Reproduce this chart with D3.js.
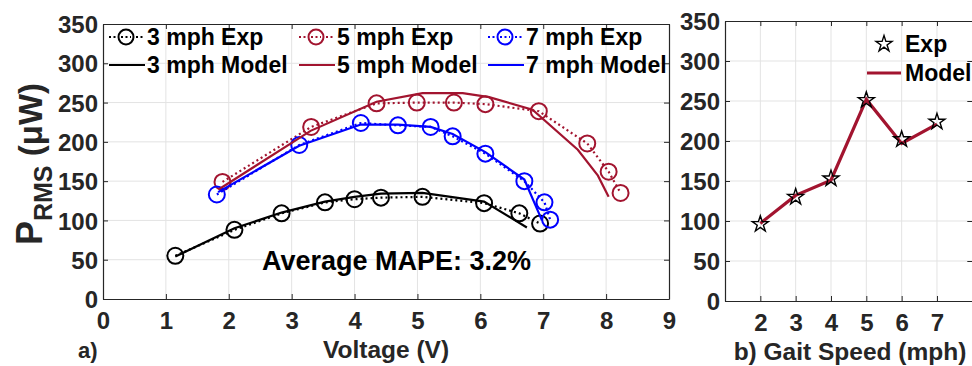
<!DOCTYPE html>
<html>
<head>
<meta charset="utf-8">
<script src="https://cdn.jsdelivr.net/npm/d3@7/dist/d3.min.js"></script>
<style>
  html, body { margin: 0; padding: 0; background: #fff; }
  svg { display: block; font-family: "Liberation Sans", Arial, Helvetica, sans-serif; font-weight: bold; }
</style>
</head>
<body>
<svg id="fig" width="972" height="366"></svg>
<script>
// ---- Panel a) power vs. voltage ----
const voltTicks = [0, 1, 2, 3, 4, 5, 6, 7, 8, 9];
const powerTicks = [0, 50, 100, 150, 200, 250, 300, 350];

const exp3V = [1.15, 2.09, 2.84, 3.53, 4.00, 4.42, 5.08, 6.06, 6.62, 6.95];
const exp3P = [55, 88, 109, 123, 127, 129, 130, 122, 109, 96];
const mod3V = [1.15, 2.09, 2.84, 3.53, 4.00, 4.42, 5.08, 6.06, 6.74];
const mod3P = [54, 90, 110, 124, 130, 134, 135, 124, 91];

const exp5V = [1.90, 3.31, 4.35, 4.99, 5.58, 6.08, 6.93, 7.70, 8.04, 8.23];
const exp5P = [149, 219, 249, 250, 250, 248, 239, 198, 162, 135];
const mod5V = [1.85, 3.30, 4.35, 5.08, 5.72, 6.14, 6.83, 7.55, 7.87, 8.04];
const mod5P = [140, 214, 251, 262, 262, 257, 241, 190, 157, 130];

const exp7V = [1.81, 3.12, 4.10, 4.69, 5.21, 5.56, 6.08, 6.70, 7.02, 7.11];
const exp7P = [133, 196, 224, 221, 219, 207, 185, 150, 123, 101];
const mod7V = [1.83, 3.12, 4.10, 4.69, 5.21, 5.56, 6.08, 6.70, 6.98];
const mod7P = [136, 195, 222, 222, 219, 210, 187, 152, 100];

const seriesNames = ["3 mph", "5 mph", "7 mph"];
const seriesColors = ["#000000", "#A2142F", "#0000FF"];
const mapeLabel = "Average MAPE: 3.2%";

// ---- Panel b) power vs. gait speed ----
const speedTicks = [2, 3, 4, 5, 6, 7];
const gaitSpeed = [2, 3, 4, 5, 6, 7];
const gaitExp = [96, 130, 153, 251, 202, 224];
const gaitModel = [97, 132, 151, 252, 197, 221];

const axisColor = "#262626";
const gridColor = "#e3e3e3";
const tickLen = 5;

const svg = d3.select("#fig");

const zip = (xs, ys) => xs.map((x, i) => [x, ys[i]]);

function drawFrame(g, x, y, xTickVals, yTickVals, xGridVals) {
  const [x0, x1] = x.range();
  const [y0, y1] = y.range();
  // grid
  g.append("g").selectAll("line").data(xGridVals).join("line")
    .attr("x1", d => x(d)).attr("x2", d => x(d))
    .attr("y1", y0).attr("y2", y1)
    .attr("stroke", gridColor).attr("stroke-width", 1);
  g.append("g").selectAll("line").data(yTickVals.filter(v => v > y.domain()[0] && v < y.domain()[1])).join("line")
    .attr("x1", x0).attr("x2", x1)
    .attr("y1", d => y(d)).attr("y2", d => y(d))
    .attr("stroke", gridColor).attr("stroke-width", 1);

  // box axes with inward ticks
  const bottom = g.append("g").attr("transform", `translate(0,${y0})`)
    .call(d3.axisBottom(x).tickValues(xTickVals).tickSizeInner(-tickLen).tickSizeOuter(0).tickPadding(13).tickFormat(d3.format("d")));
  const left = g.append("g").attr("transform", `translate(${x0},0)`)
    .call(d3.axisLeft(y).tickValues(yTickVals).tickSizeInner(-tickLen).tickSizeOuter(0).tickPadding(5).tickFormat(d3.format("d")));
  const top = g.append("g").attr("transform", `translate(0,${y1})`)
    .call(d3.axisTop(x).tickValues(xTickVals).tickSizeInner(-tickLen).tickSizeOuter(0).tickFormat(""));
  const right = g.append("g").attr("transform", `translate(${x1},0)`)
    .call(d3.axisRight(y).tickValues(yTickVals).tickSizeInner(-tickLen).tickSizeOuter(0).tickFormat(""));

  [bottom, left, top, right].forEach(a => {
    a.select(".domain").attr("stroke", axisColor).attr("stroke-width", 1.2);
    a.selectAll(".tick line").attr("stroke", axisColor).attr("stroke-width", 1);
    a.selectAll(".tick text")
      .attr("fill", axisColor)
      .style("font-family", "'Liberation Sans', Arial, sans-serif")
      .style("font-weight", "bold")
      .style("font-size", "24px");
  });
  left.selectAll(".tick text").attr("dy", "0.36em");
  bottom.selectAll(".tick text").attr("dy", "0.71em");
}

// ================= Panel a =================
const xA = d3.scaleLinear().domain([0, 9]).range([103, 669]);
const yA = d3.scaleLinear().domain([0, 350]).range([299, 24]);
const gA = svg.append("g");
drawFrame(gA, xA, yA, voltTicks, powerTicks, voltTicks.filter(v => v > 0 && v < 9));

const lineA = d3.line().x(d => xA(d[0])).y(d => yA(d[1]));
const expSets = [zip(exp3V, exp3P), zip(exp5V, exp5P), zip(exp7V, exp7P)];
const modSets = [zip(mod3V, mod3P), zip(mod5V, mod5P), zip(mod7V, mod7P)];

const plotA = gA.append("g");
[0, 1, 2].forEach(i => {
  // experimental data: dotted line with open circles
  plotA.append("path").datum(expSets[i])
    .attr("d", lineA).attr("fill", "none")
    .attr("stroke", seriesColors[i]).attr("stroke-width", 2.2)
    .attr("stroke-dasharray", "2,3");
  plotA.append("g").selectAll("circle").data(expSets[i]).join("circle")
    .attr("cx", d => xA(d[0])).attr("cy", d => yA(d[1])).attr("r", 8)
    .attr("fill", "none").attr("stroke", seriesColors[i]).attr("stroke-width", 2);
});
[0, 1, 2].forEach(i => {
  // model: solid line
  plotA.append("path").datum(modSets[i])
    .attr("d", lineA).attr("fill", "none")
    .attr("stroke", seriesColors[i]).attr("stroke-width", 2.2);
});

// legend (3 columns x 2 rows)
const legA = gA.append("g");
const legCols = [109, 299, 488];
const legRows = [37, 65];
seriesNames.forEach((name, i) => {
  const lx = legCols[i];
  // Exp row
  legA.append("line")
    .attr("x1", lx).attr("x2", lx + 34).attr("y1", legRows[0]).attr("y2", legRows[0])
    .attr("stroke", seriesColors[i]).attr("stroke-width", 2).attr("stroke-dasharray", "2,2.5");
  legA.append("circle").attr("cx", lx + 17).attr("cy", legRows[0]).attr("r", 7.5)
    .attr("fill", "#fff").attr("stroke", seriesColors[i]).attr("stroke-width", 2);
  legA.append("line")
    .attr("x1", lx + 12).attr("x2", lx + 22).attr("y1", legRows[0]).attr("y2", legRows[0])
    .attr("stroke", seriesColors[i]).attr("stroke-width", 2).attr("stroke-dasharray", "2,2.5");
  legA.append("text").attr("x", lx + 38).attr("y", legRows[0]).attr("dy", "0.36em")
    .attr("font-size", 23).attr("fill", "#000").text(name + " Exp");
  // Model row
  legA.append("line")
    .attr("x1", lx).attr("x2", lx + 36).attr("y1", legRows[1]).attr("y2", legRows[1])
    .attr("stroke", seriesColors[i]).attr("stroke-width", 2.2);
  legA.append("text").attr("x", lx + 38).attr("y", legRows[1]).attr("dy", "0.36em")
    .attr("font-size", 23).attr("fill", "#000").text(name + " Model");
});

gA.append("text").attr("x", 262).attr("y", 270)
  .attr("font-size", 27).attr("fill", "#000").text(mapeLabel);

// axis titles
const yTitle = gA.append("text")
  .attr("transform", "translate(42,164) rotate(-90)")
  .attr("text-anchor", "middle").attr("fill", axisColor);
yTitle.append("tspan").attr("font-size", 36).text("P");
yTitle.append("tspan").attr("font-size", 25).attr("dy", 10).text("RMS");
yTitle.append("tspan").attr("font-size", 33).attr("dy", -10).text(" (μW)");

gA.append("text").attr("x", 386).attr("y", 358).attr("text-anchor", "middle")
  .attr("font-size", 24.5).attr("fill", axisColor).text("Voltage (V)");
gA.append("text").attr("x", 78).attr("y", 358)
  .attr("font-size", 22).attr("fill", axisColor).text("a)");

// ================= Panel b =================
const xB = d3.scaleLinear().domain([1, 8]).range([725, 972.3]);
const yB = d3.scaleLinear().domain([0, 350]).range([301, 21]);
const gB = svg.append("g");
drawFrame(gB, xB, yB, speedTicks, powerTicks, speedTicks);

const lineB = d3.line().x(d => xB(d[0])).y(d => yB(d[1]));
gB.append("path").datum(zip(gaitSpeed, gaitModel))
  .attr("d", lineB).attr("fill", "none")
  .attr("stroke", "#A2142F").attr("stroke-width", 3.2).attr("stroke-linejoin", "miter");

const star = d3.symbol().type(d3.symbolStar).size(80);
gB.append("g").selectAll("path").data(zip(gaitSpeed, gaitExp)).join("path")
  .attr("transform", d => `translate(${xB(d[0])},${yB(d[1])})`)
  .attr("d", star).attr("fill", "none").attr("stroke", "#000").attr("stroke-width", 1.4);

// legend b
const legB = gB.append("g");
legB.append("path").attr("transform", "translate(884,44)")
  .attr("d", star).attr("fill", "none").attr("stroke", "#000").attr("stroke-width", 1.4);
legB.append("text").attr("x", 905).attr("y", 44).attr("dy", "0.36em")
  .attr("font-size", 23).attr("fill", "#000").text("Exp");
legB.append("line").attr("x1", 867).attr("x2", 901).attr("y1", 73).attr("y2", 73)
  .attr("stroke", "#A2142F").attr("stroke-width", 3.2);
legB.append("text").attr("x", 905).attr("y", 73).attr("dy", "0.36em")
  .attr("font-size", 23).attr("fill", "#000").text("Model");

gB.append("text").attr("x", 850).attr("y", 360).attr("text-anchor", "middle")
  .attr("font-size", 24.5).attr("fill", axisColor).text("b) Gait Speed (mph)");
</script>
</body>
</html>
